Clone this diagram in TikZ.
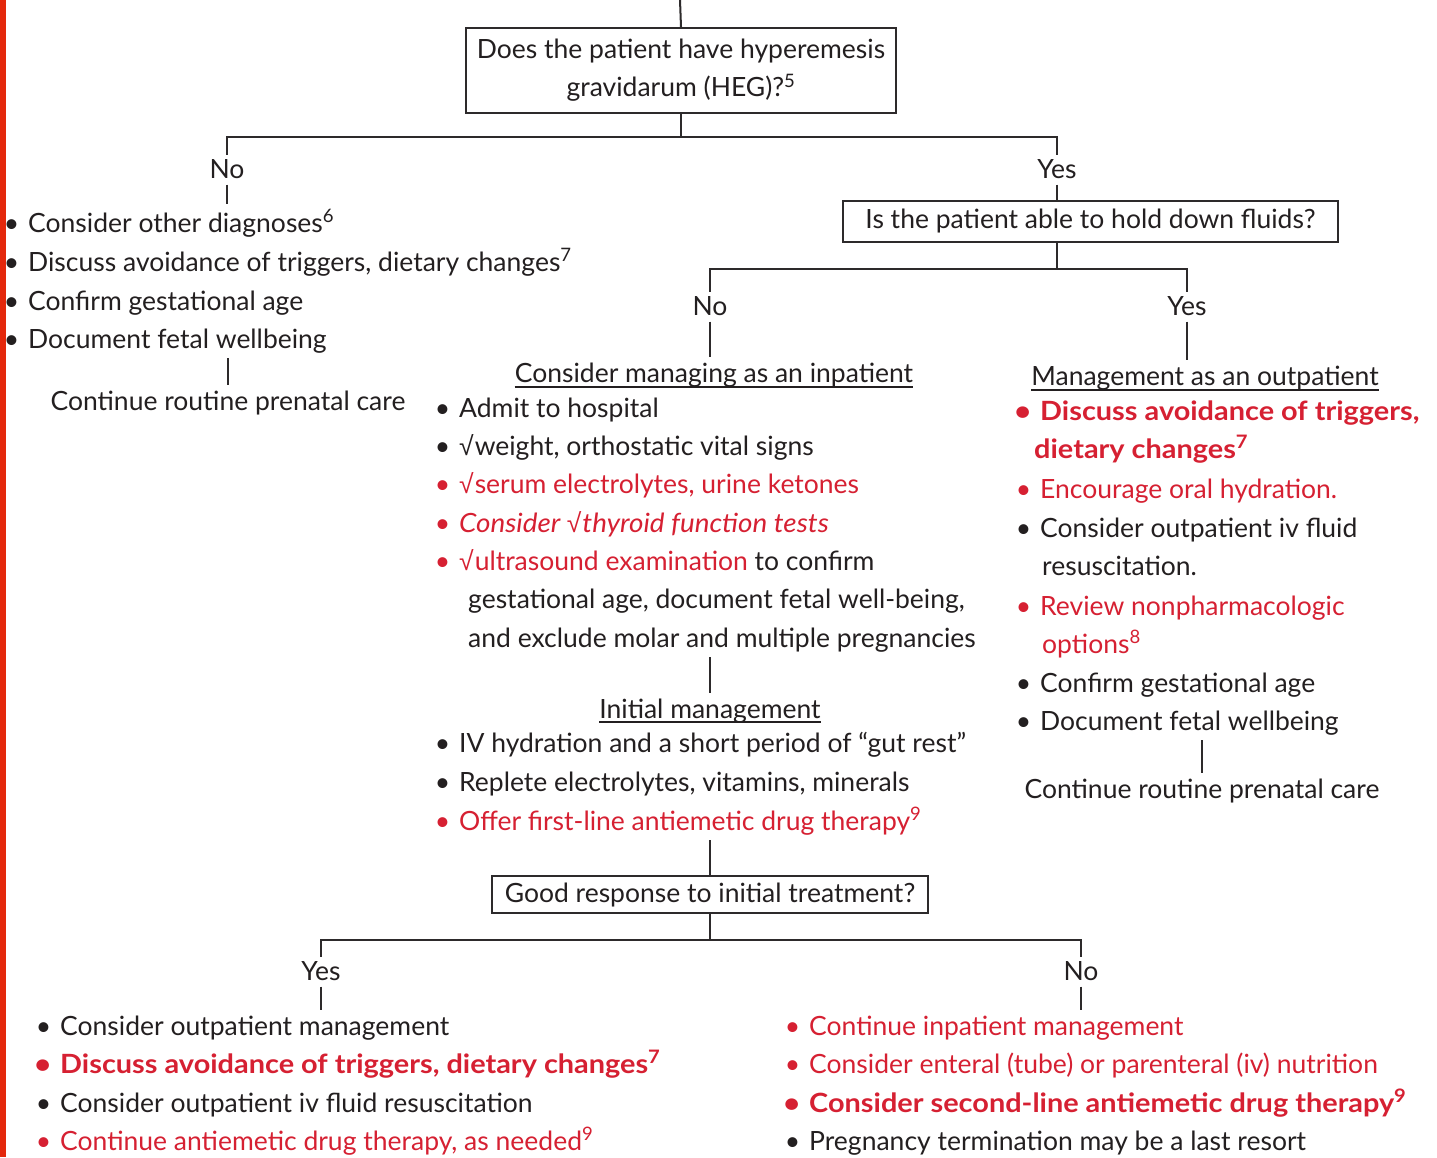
\documentclass[tikz,border=0pt]{standalone}
\usepackage{fontspec}
\setmainfont{Lato}[BoldFeatures={FakeStretch=1.09}, ItalicFeatures={FakeStretch=1.05}]
\newfontfamily\symf{Liberation Sans}
\definecolor{txt}{RGB}{35,31,32}
\definecolor{rd}{RGB}{214,32,50}
\definecolor{barc}{RGB}{228,40,12}
\definecolor{ln}{RGB}{45,42,43}
\newcommand{\ck}{{\symf √}\hspace{1pt}}
\newcommand{\bul}{\llap{•\hspace{9pt}}}
\newcommand{\sps}[1]{\textsuperscript{#1}}
\tikzset{
  base/.style={inner xsep=0pt, inner ysep=5pt, text=txt, font=\fontsize{26.5}{38}\selectfont},
  item/.style={base, anchor=base west},
  ritem/.style={item, text=rd},
  head/.style={base, anchor=base},
  lbl/.style={base, anchor=base, inner ysep=4pt, text depth=0.25em},
  qbox/.style={draw=ln, line width=2pt, inner sep=0pt, align=center, text=txt, font=\fontsize{26.5}{38}\selectfont},
  conn/.style={draw=ln, line width=2pt},
  ul/.style={draw=txt, line width=1.2pt}
}
\begin{document}
\begin{tikzpicture}[x=1pt,y=-1pt]
\useasboundingbox (0,0) rectangle (1437,1157);
\fill[white] (0,0) rectangle (1437,1157);
\fill[barc] (0,0) rectangle (6,1157);

% top question
\coordinate (top) at (680,0);
\node[qbox, minimum width=430pt, minimum height=85pt] (q1) at (681,70.5)
  {Does the patient have hyperemesis\\gravidarum (HEG)?\sps{5}};
\coordinate (j1) at ([yshift=-23pt]q1.south);
\node[lbl] (no1) at (227,178) {No};
\node[lbl] (yes1) at (1057,178) {Yes};

% left branch
\node[item] (l1) at (28,232) {\bul Consider other diagnoses\sps{6}};
\node[item] (l2) at (28,271) {\bul Discuss avoidance of triggers, dietary changes\sps{7}};
\node[item] (l3) at (28,310) {\bul Confirm gestational age};
\node[item] (l4) at (28,348) {\bul Document fetal wellbeing};
\node[head] (c1) at (228,410) {Continue routine prenatal care};

% second question
\node[qbox, minimum width=495pt, minimum height=41pt] (q2) at (1090.5,221.5)
  {Is the patient able to hold down fluids?};
\coordinate (j2) at ([yshift=-26pt]q2.south -| yes1.south);
\node[lbl] (no2) at (710,315) {No};
\node[lbl] (yes2) at (1187,315) {Yes};

% inpatient
\node[head] (h1) at (714,382) {Consider managing as an inpatient};
\node[item] (i1) at (459,417) {\bul Admit to hospital};
\node[item] (i2) at (459,455) {\bul \ck weight, orthostatic vital signs};
\node[ritem] (i3) at (459,493) {\bul \ck serum electrolytes, urine ketones};
\node[ritem] (i4) at (459,532) {\bul \textit{Consider \ck thyroid function tests}};
\node[ritem] (i5) at (459,570) {\bul \ck ultrasound examination \textcolor{txt}{to confirm}};
\node[item] (i6) at (468,608) {gestational age, document fetal well-being,};
\node[item] (i7) at (468,647) {and exclude molar and multiple pregnancies};

\node[head] (h3) at (710,718) {Initial management};
\node[item] (m1) at (459,752) {\bul IV hydration and a short period of “gut rest”};
\node[item] (m2) at (459,791) {\bul Replete electrolytes, vitamins, minerals};
\node[ritem] (m3) at (459,830) {\bul Offer first-line antiemetic drug therapy\sps{9}};

\node[qbox, minimum width=436pt, minimum height=37pt] (q3) at (710,894.5)
  {Good response to initial treatment?};
\coordinate (j3) at ([yshift=-26pt]q3.south);
\node[lbl] (yes3) at (321,980) {Yes};
\node[lbl] (no3) at (1081,980) {No};

% outpatient
\node[head] (h2) at (1205,385) {Management as an outpatient};
\node[ritem] (o1) at (1040,420) {\bfseries\bul Discuss avoidance of triggers,};
\node[ritem] (o2) at (1034,458) {\bfseries dietary changes\sps{7}};
\node[ritem] (o3) at (1040,498) {\bul Encourage oral hydration.};
\node[item] (o4) at (1040,537) {\bul Consider outpatient iv fluid};
\node[item] (o5) at (1042,575) {resuscitation.};
\node[ritem] (o6) at (1040,615) {\bul Review nonpharmacologic};
\node[ritem] (o7) at (1042,653) {options\sps{8}};
\node[item] (o8) at (1040,692) {\bul Confirm gestational age};
\node[item] (o9) at (1040,730) {\bul Document fetal wellbeing};
\node[head] (c2) at (1202,798) {Continue routine prenatal care};

% bottom left
\node[item] (b1) at (60,1035) {\bul Consider outpatient management};
\node[ritem] (b2) at (60,1073) {\bfseries\bul Discuss avoidance of triggers, dietary changes\sps{7}};
\node[item] (b3) at (60,1112) {\bul Consider outpatient iv fluid resuscitation};
\node[ritem] (b4) at (60,1150) {\bul Continue antiemetic drug therapy, as needed\sps{9}};

% bottom right
\node[ritem] (r1) at (809,1035) {\bul Continue inpatient management};
\node[ritem] (r2) at (809,1073) {\bul Consider enteral (tube) or parenteral (iv) nutrition};
\node[ritem] (r3) at (809,1112) {\bfseries\bul Consider second-line antiemetic drug therapy\sps{9}};
\node[item] (r4) at (809,1150) {\bul Pregnancy termination may be a last resort};

% underlines
\draw[ul] ([yshift=-5pt]h1.base west) -- ([yshift=-5pt]h1.base east);
\draw[ul] ([yshift=-4pt]h3.base west) -- ([yshift=-4pt]h3.base east);
\draw[ul] ([yshift=-5pt]h2.base west) -- ([yshift=-5pt]h2.base east);

% connectors
\draw[conn] (top) -- (q1.north);
\draw[conn] (q1.south) -- (j1);
\draw[conn] (no1.north) |- (j1) -| (yes1.north);
\draw[conn] (no1.south) -- (no1.south |- l1.north);
\draw[conn] (c1.north |- l4.south) -- (c1.north);
\draw[conn] (yes1.south) -- (yes1.south |- q2.north);
\draw[conn] (yes1.south |- q2.south) -- (j2);
\draw[conn] (no2.north) |- (j2) -| (yes2.north);
\draw[conn] (no2.south) -- (no2.south |- h1.north);
\draw[conn] (yes2.south) -- (yes2.south |- h2.north);
\draw[conn] (h3.north |- i7.south) -- (h3.north);
\draw[conn] (q3.north |- m3.south) -- (q3.north);
\draw[conn] (q3.south) -- (j3);
\draw[conn] (yes3.north) |- (j3) -| (no3.north);
\draw[conn] (yes3.south) -- (yes3.south |- b1.north);
\draw[conn] (no3.south) -- (no3.south |- r1.north);
\draw[conn] (c2.north |- o9.south) -- (c2.north);
\end{tikzpicture}
\end{document}
